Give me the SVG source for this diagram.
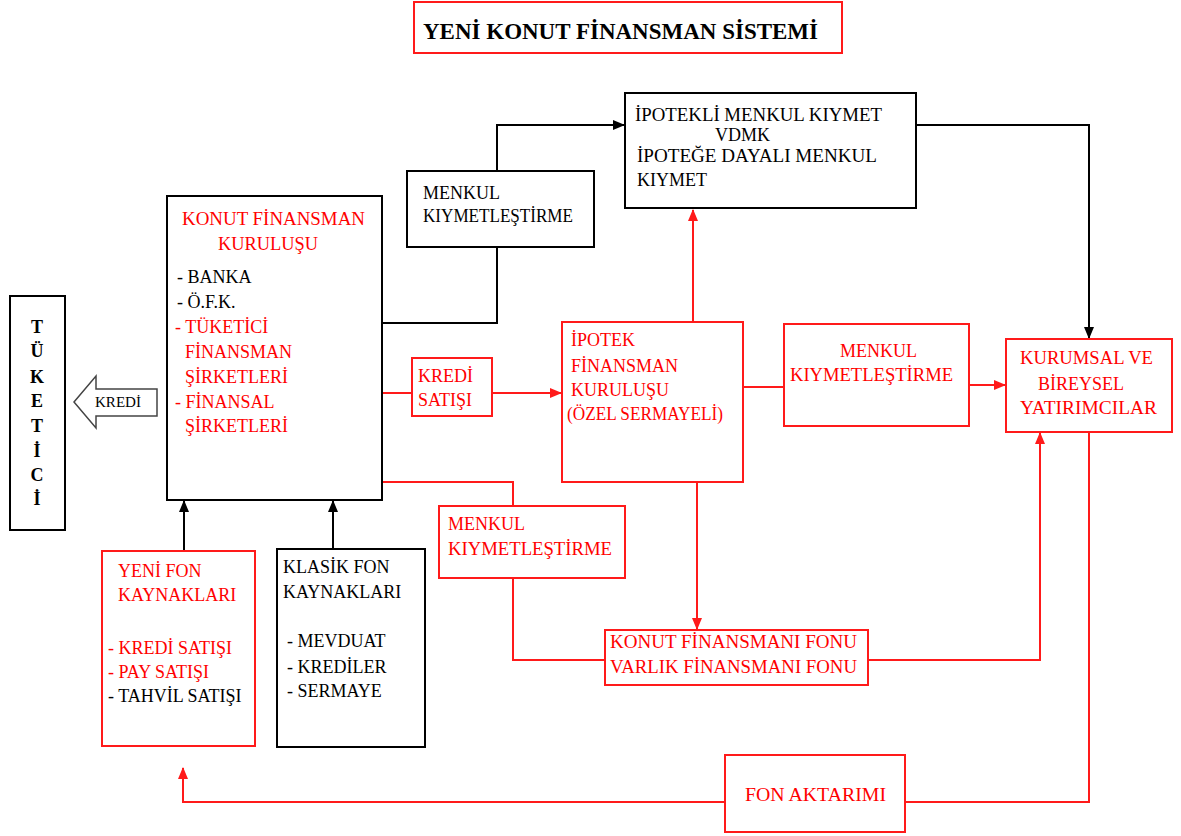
<svg xmlns="http://www.w3.org/2000/svg" width="1181" height="836" viewBox="0 0 1181 836">
<style>
text{font-family:"Liberation Serif","Times New Roman",serif;font-size:18px;}
.r{fill:#ff0000;}
.k{fill:#000;}
.bx{fill:#fff;stroke-width:2;}
.bk{stroke:#000;}
.br{stroke:#ff1a1a;}
.ck{fill:none;stroke:#000;stroke-width:2;}
.cr{fill:none;stroke:#ff1a1a;stroke-width:2;}
.b{font-weight:bold;}
</style>
<defs>
<marker id="ak" markerUnits="userSpaceOnUse" markerWidth="12" markerHeight="12" viewBox="0 0 12 12" refX="11" refY="6" orient="auto"><path d="M0,1 L12,6 L0,11 Z" fill="#000"/></marker>
<marker id="ar" markerUnits="userSpaceOnUse" markerWidth="12" markerHeight="12" viewBox="0 0 12 12" refX="11" refY="6" orient="auto"><path d="M0,1 L12,6 L0,11 Z" fill="#ff1a1a"/></marker>
</defs>
<rect width="1181" height="836" fill="#fff"/>

<g id="title">
<rect class="bx br" x="414" y="2" width="428" height="51"/>
<text class="k b" x="423" y="39" style="font-size:23px" textLength="395" lengthAdjust="spacingAndGlyphs">YENİ KONUT FİNANSMAN SİSTEMİ</text>
</g>

<g id="connectors">
<polyline class="ck" points="382,323 497,323 497,247"/>
<polyline class="ck" points="497,171 497,125 624,125" marker-end="url(#ak)"/>
<polyline class="ck" points="916,125 1089,125 1089,338" marker-end="url(#ak)"/>
<line class="ck" x1="184" y1="551" x2="184" y2="501" marker-end="url(#ak)"/>
<line class="ck" x1="333" y1="549" x2="333" y2="501" marker-end="url(#ak)"/>
<line class="cr" x1="382" y1="393" x2="412" y2="393"/>
<line class="cr" x1="492" y1="393" x2="561" y2="393" marker-end="url(#ar)"/>
<line class="cr" x1="693" y1="322" x2="693" y2="210" marker-end="url(#ar)"/>
<line class="cr" x1="743" y1="387" x2="784" y2="387"/>
<line class="cr" x1="969" y1="385" x2="1005" y2="385" marker-end="url(#ar)"/>
<polyline class="cr" points="382,482 513,482 513,506"/>
<polyline class="cr" points="513,578 513,660 605,660"/>
<line class="cr" x1="697" y1="482" x2="697" y2="629" marker-end="url(#ar)"/>
<polyline class="cr" points="868,660 1040,660 1040,433" marker-end="url(#ar)"/>
<polyline class="cr" points="1089,432 1089,802 905,802"/>
<polyline class="cr" points="725,802 183,802 183,768" marker-end="url(#ar)"/>
</g>

<g id="tuketici">
<rect class="bx bk" x="10" y="296" width="55" height="234"/>
<g class="k b" text-anchor="middle">
<text x="37" y="333">T</text>
<text x="37" y="357">Ü</text>
<text x="37" y="383">K</text>
<text x="37" y="407">E</text>
<text x="37" y="432">T</text>
<text x="37" y="457">İ</text>
<text x="37" y="481">C</text>
<text x="37" y="505">İ</text>
</g>
</g>

<g id="kredi-arrow">
<path d="M74,402 L96,376 L96,389 L157,389 L157,416 L96,416 L96,428 Z" fill="#fff" stroke="#444" stroke-width="1.5"/>
<text class="k" x="95" y="407" style="font-size:15px" textLength="46" lengthAdjust="spacingAndGlyphs">KREDİ</text>
</g>

<g id="kfk">
<rect class="bx bk" x="167" y="196" width="215" height="304"/>
<text class="r" x="182" y="225" textLength="183" lengthAdjust="spacingAndGlyphs">KONUT FİNANSMAN</text>
<text class="r" x="218" y="250" textLength="100" lengthAdjust="spacingAndGlyphs">KURULUŞU</text>
<text class="k" x="177" y="283">- BANKA</text>
<text class="k" x="177" y="308">- Ö.F.K.</text>
<text class="r" x="175" y="333">- TÜKETİCİ</text>
<text class="r" x="185" y="358">FİNANSMAN</text>
<text class="r" x="185" y="383">ŞİRKETLERİ</text>
<text class="r" x="175" y="408">- FİNANSAL</text>
<text class="r" x="185" y="432">ŞİRKETLERİ</text>
</g>

<g id="menkul-top">
<rect class="bx bk" x="407" y="171" width="187" height="76"/>
<text class="k" x="423" y="199">MENKUL</text>
<text class="k" x="423" y="222" textLength="150" lengthAdjust="spacingAndGlyphs">KIYMETLEŞTİRME</text>
</g>

<g id="ipotekli">
<rect class="bx bk" x="625" y="93" width="291" height="115"/>
<text class="k" x="635" y="121" textLength="247" lengthAdjust="spacingAndGlyphs">İPOTEKLİ MENKUL KIYMET</text>
<text class="k" x="715" y="141">VDMK</text>
<text class="k" x="637" y="162" textLength="240" lengthAdjust="spacingAndGlyphs">İPOTEĞE DAYALI MENKUL</text>
<text class="k" x="637" y="186">KIYMET</text>
</g>

<g id="kredi-satisi">
<rect class="bx br" x="412" y="358" width="80" height="58"/>
<text class="r" x="418" y="382">KREDİ</text>
<text class="r" x="418" y="406">SATIŞI</text>
</g>

<g id="ipotek">
<rect class="bx br" x="562" y="322" width="181" height="160"/>
<text class="r" x="571" y="346">İPOTEK</text>
<text class="r" x="571" y="372">FİNANSMAN</text>
<text class="r" x="571" y="396">KURULUŞU</text>
<text class="r" x="567" y="420" textLength="156" lengthAdjust="spacingAndGlyphs">(ÖZEL SERMAYELİ)</text>
</g>

<g id="menkul-mid">
<rect class="bx br" x="784" y="324" width="185" height="102"/>
<text class="r" x="840" y="357">MENKUL</text>
<text class="r" x="790" y="381" textLength="163" lengthAdjust="spacingAndGlyphs">KIYMETLEŞTİRME</text>
</g>

<g id="kurumsal">
<rect class="bx br" x="1006" y="339" width="166" height="93"/>
<text class="r" x="1020" y="364" textLength="133" lengthAdjust="spacingAndGlyphs">KURUMSAL VE</text>
<text class="r" x="1038" y="390">BİREYSEL</text>
<text class="r" x="1020" y="414" textLength="137" lengthAdjust="spacingAndGlyphs">YATIRIMCILAR</text>
</g>

<g id="menkul-low">
<rect class="bx br" x="439" y="506" width="186" height="72"/>
<text class="r" x="448" y="530">MENKUL</text>
<text class="r" x="448" y="555" textLength="164" lengthAdjust="spacingAndGlyphs">KIYMETLEŞTİRME</text>
</g>

<g id="konut-fonu">
<rect class="bx br" x="605" y="630" width="263" height="55"/>
<text class="r" x="610" y="648" textLength="247" lengthAdjust="spacingAndGlyphs">KONUT FİNANSMANI FONU</text>
<text class="r" x="610" y="673" textLength="247" lengthAdjust="spacingAndGlyphs">VARLIK FİNANSMANI FONU</text>
</g>

<g id="yeni-fon">
<rect class="bx br" x="102" y="551" width="153" height="195"/>
<text class="r" x="118" y="577">YENİ FON</text>
<text class="r" x="118" y="601">KAYNAKLARI</text>
<text class="r" x="108" y="654">- KREDİ SATIŞI</text>
<text class="r" x="108" y="678">- PAY SATIŞI</text>
<text class="k" x="108" y="702">- TAHVİL SATIŞI</text>
</g>

<g id="klasik-fon">
<rect class="bx bk" x="277" y="549" width="148" height="198"/>
<text class="k" x="283" y="573">KLASİK FON</text>
<text class="k" x="283" y="598">KAYNAKLARI</text>
<text class="k" x="287" y="647">- MEVDUAT</text>
<text class="k" x="287" y="673">- KREDİLER</text>
<text class="k" x="287" y="697">- SERMAYE</text>
</g>

<g id="fon-aktarimi">
<rect class="bx br" x="725" y="755" width="180" height="77"/>
<text class="r" x="745" y="801" textLength="141" lengthAdjust="spacingAndGlyphs">FON AKTARIMI</text>
</g>
</svg>
